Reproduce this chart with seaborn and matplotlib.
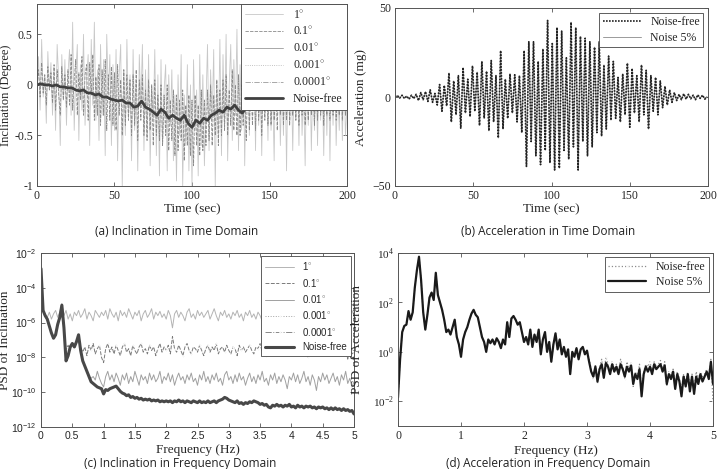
import numpy as np
import matplotlib
matplotlib.use("Agg")
import matplotlib.pyplot as plt
from matplotlib.ticker import FixedLocator, FuncFormatter, NullLocator
import seaborn as sns

# ---------------- data ----------------
# (a) inclination in time domain, 1 s sampling
incl_1deg = [
    0.02, 0.28, -0.25, 0.45, -0.12, 0.1, -0.38, 0.33, -0.05, 0.22,
    -0.3, 0.15, -0.45, 0.4, 0.05, -0.6, 0.3, -0.15, 0.25, -0.4,
    0.12, 0.35, -0.3, 0.62, -0.45, 0.1, 0.4, -0.55, 0.2, -0.25,
    0.5, -0.4, 0.05, 0.3, -0.6, 0.45, -0.2, 0.62, -0.35, 0.15,
    -0.55, 0.4, -0.3, 0.25, -0.7, 0.5, -0.1, 0.3, -0.6, 0.2,
    -0.45, 0.35, -0.75, 0.1, 0.4, -1.0, 0.15, -0.5, 0.45, -0.3,
    0.1, -0.75, 0.35, -0.45, 0.05, -0.85, 0.3, -0.2, 0.4, -0.65,
    0.15, -0.5, 0.3, -0.8, 0.0, -0.35, 0.35, -0.7, 0.1, -0.9,
    0.25, -0.6, -0.05, 0.2, -0.85, 0.1, -0.4, 0.15, -0.75, -0.1,
    -0.95, 0.1, -0.5, 0.3, -1.0, -0.1, -0.6, 0.2, -0.85, 0.0,
    -1.0, 0.25, -0.45, -0.05, -0.9, 0.3, -0.6, 0.1, -0.8, -0.2,
    0.4, -0.65, 0.15, -0.35, 0.35, -1.0, 0.05, -0.5, 0.45, -0.7,
    0.3, -0.4, 0.5, -0.75, 0.0, 0.4, -0.55, 0.25, -0.3, 0.55,
    -0.65, 0.2, -0.45, 0.45, -0.8, 0.1, 0.5, -0.5, 0.3, -0.25,
    0.2, -0.65, 0.5, -0.4, 0.05, -0.7, 0.4, -0.3, 0.2, -0.55,
    0.3, -0.45, 0.0, -0.75, 0.35, -0.3, 0.2, -0.6, 0.1, -0.5,
    0.25, -0.85, 0.3, -0.4, 0.1, -0.65, 0.2, -0.35, 0.15, -0.6,
    0.3, -0.5, -0.05, -0.8, 0.2, -0.4, 0.25, -0.65, 0.1, -0.45,
    0.2, -0.6, 0.3, -0.35, 0.05, -0.7, 0.25, -0.5, 0.15, -0.75,
    0.2, -0.4, 0.3, -0.6, 0.0, -0.45, 0.2, -0.55, 0.15, -0.5,
    -0.2,
]
incl_01deg = [
    0.0, 0.15, -0.12, 0.22, -0.08, 0.1, -0.2, 0.18, -0.05, 0.12,
    -0.18, 0.2, -0.25, 0.15, -0.1, -0.3, 0.18, -0.15, 0.1, -0.22,
    0.15, -0.2, 0.3, -0.25, 0.05, 0.25, -0.3, 0.12, -0.15, 0.28,
    -0.3, 0.1, 0.2, -0.35, 0.22, -0.1, 0.3, -0.35, 0.08, -0.3,
    0.2, -0.4, 0.15, -0.3, 0.25, -0.45, 0.1, -0.35, 0.18, -0.4,
    0.12, -0.45, 0.2, -0.3, 0.05, -0.5, 0.15, -0.4, 0.1, -0.35,
    0.05, -0.5, 0.1, -0.4, 0.15, -0.55, 0.05, -0.35, 0.1, -0.5,
    -0.05, -0.55, 0.05, -0.45, 0.0, -0.6, 0.05, -0.5, -0.1, -0.55,
    0.0, -0.6, -0.1, -0.5, 0.0, -0.65, -0.15, -0.55, -0.05, -0.7,
    -0.1, -0.65, -0.15, -0.55, -0.05, -0.75, -0.2, -0.6, -0.1, -0.7,
    -0.15, -0.8, -0.1, -0.6, -0.2, -0.7, -0.05, -0.65, -0.15, -0.6,
    -0.05, -0.55, 0.0, -0.6, -0.1, -0.5, 0.05, -0.6, -0.05, -0.5,
    0.05, -0.45, 0.1, -0.5, -0.05, -0.4, 0.15, -0.45, 0.0, -0.5,
    0.1, -0.5, 0.0, -0.4, 0.05, -0.55, 0.1, -0.45, 0.05, -0.4,
    0.1, -0.45, 0.15, -0.35, 0.05, -0.5, 0.1, -0.35, 0.15, -0.4,
    0.1, -0.4, 0.15, -0.35, 0.05, -0.45, 0.1, -0.3, 0.15, -0.4,
    0.1, -0.35, 0.15, -0.4, 0.05, -0.3, 0.12, -0.35, 0.1, -0.4,
    0.15, -0.3, 0.05, -0.4, 0.1, -0.35, 0.15, -0.3, 0.05, -0.4,
    0.1, -0.35, 0.15, -0.3, 0.05, -0.4, 0.1, -0.3, 0.12, -0.35,
    0.1, -0.3, 0.15, -0.35, 0.05, -0.3, 0.1, -0.35, 0.08, -0.3,
    -0.1,
]
# noise-free inclination, 2.5 s sampling
incl_free = [
    0.0, 0.01, 0.0, 0.0, -0.01, 0.0, -0.02, -0.02, -0.03, -0.03,
    -0.05, -0.06, -0.05, -0.08, -0.08, -0.10, -0.09, -0.12, -0.12, -0.14,
    -0.15, -0.16, -0.15, -0.18, -0.18, -0.22, -0.21, -0.16, -0.22, -0.24,
    -0.27, -0.30, -0.24, -0.27, -0.33, -0.30, -0.33, -0.35, -0.30, -0.38,
    -0.42, -0.35, -0.38, -0.33, -0.35, -0.30, -0.28, -0.25, -0.27, -0.22,
    -0.24, -0.20, -0.25, -0.28, -0.22, -0.20, -0.23, -0.18, -0.15, -0.16,
    -0.14, -0.15, -0.13, -0.14, -0.12, -0.13, -0.11, -0.12, -0.10, -0.11,
    -0.09, -0.10, -0.08, -0.09, -0.08, -0.07, -0.08, -0.06, -0.07, -0.05,
    -0.06,
]

# (b) acceleration (mg), 1.5 s sampling (successive peaks / troughs)
acc_free = [
    0.0, 0.8, -0.6, 1.0, -0.8, 0.5, -1.2, 1.0, -0.9, 1.5,
    -2.0, 2.5, -1.5, 3.0, -2.5, 4.0, -3.0, 2.0, -4.5, 7.0,
    -8.0, 6.5, -5.0, 13.5, -14.0, 9.0, -10.0, 12.0, -17.5, 16.5,
    -9.0, 10.0, -11.0, 17.5, -8.0, 14.0, -16.0, 20.0, -12.0, 14.5,
    -19.0, 20.5, -14.0, 12.0, -23.0, 26.0, -18.0, 10.0, -12.0, 13.0,
    -9.0, 12.5, -14.0, 12.0, -20.0, 26.0, -39.0, 31.0, -25.0, 31.0,
    -33.0, 20.0, -38.0, 27.0, -30.0, 43.0, -37.0, 30.0, -41.0, 39.0,
    -40.0, 37.0, -30.0, 22.0, -35.0, 42.0, -28.0, 39.0, -41.0, 34.0,
    -25.0, 33.0, -33.0, 31.0, -28.0, 28.0, -20.0, 31.0, -22.0, 18.0,
    -18.0, 23.0, -13.0, 20.0, -12.0, 11.0, -14.0, 13.0, -10.0, 19.0,
    -17.0, 16.0, -9.0, 12.0, -14.0, 18.0, -10.0, 15.0, -18.0, 12.0,
    -8.0, 11.0, -10.0, 9.0, -6.0, 6.0, -4.5, 4.0, -3.0, 2.5,
    -2.0, 1.5, -1.5, 1.8, -1.2, 1.5, -1.0, 1.0, -1.5, 1.2,
    -0.8, 1.0, -1.2, 0.0,
]
acc_noise = acc_free

# (c) PSD of inclination, log10 values on a 1/30 Hz grid
psd_incl_free = [
    -2.9, -5.3, -5.6, -5.8, -6.2, -6.6, -6.9, -6.7, -6.1, -5.7,
    -5.0, -6.3, -8.2, -7.9, -7.4, -7.2, -7.4, -7.1, -6.7, -7.6,
    -8.2, -8.5, -8.8, -9.1, -9.4, -9.5, -9.6, -9.7, -9.75, -9.8,
    -10.1, -9.85, -9.9, -9.8, -9.75, -9.7, -9.65, -9.8, -9.95, -10.05,
    -10.1, -10.2, -10.15, -10.3, -10.25, -10.35, -10.3, -10.4, -10.35, -10.45,
    -10.4, -10.45, -10.4, -10.5, -10.45, -10.5, -10.45, -10.55, -10.5, -10.55,
    -10.5, -10.55, -10.5, -10.6, -10.5, -10.55, -10.45, -10.55, -10.5, -10.6,
    -10.5, -10.55, -10.6, -10.5, -10.55, -10.6, -10.5, -10.6, -10.55, -10.6,
    -10.5, -10.6, -10.55, -10.5, -10.6, -10.5, -10.45, -10.4, -10.3, -10.35,
    -10.45, -10.5, -10.55, -10.6, -10.5, -10.65, -10.6, -10.7, -10.6, -10.65,
    -10.55, -10.6, -10.5, -10.55, -10.6, -10.7, -10.65, -10.75, -10.7, -10.85,
    -10.9, -10.75, -10.8, -10.7, -10.8, -10.75, -10.85, -10.75, -10.8, -10.7,
    -10.85, -10.8, -10.9, -10.75, -10.85, -10.8, -10.9, -10.8, -10.85, -10.8,
    -10.9, -10.85, -10.95, -10.85, -10.9, -10.85, -10.95, -10.9, -11.0, -10.9,
    -11.0, -10.9, -11.0, -10.95, -11.05, -10.95, -11.05, -11.0, -11.1, -11.05,
    -11.25,
]
psd_incl_1deg = [
    -2.9, -5.3, -5.5, -5.7, -5.4, -5.8, -5.5, -5.3, -5.7, -5.4,
    -4.9, -5.6, -5.3, -5.8, -5.5, -5.9, -5.4, -5.6, -5.3, -5.7,
    -5.5, -5.2, -5.8, -5.4, -5.6, -5.9, -5.3, -5.5, -5.7, -5.4,
    -5.6, -5.3, -5.8, -5.2, -5.5, -5.7, -5.4, -5.9, -5.3, -5.6,
    -5.4, -5.7, -5.2, -5.5, -5.8, -5.4, -5.6, -5.3, -5.9, -5.5,
    -5.3, -5.7, -5.5, -5.2, -5.8, -5.4, -5.6, -5.35, -5.7, -5.5,
    -5.8, -5.3, -5.6, -6.3, -5.5, -5.3, -5.7, -5.4, -5.6, -5.9,
    -5.4, -5.2, -5.7, -5.5, -5.8, -5.3, -5.6, -5.4, -5.7, -5.5,
    -5.3, -5.8, -5.5, -5.2, -5.6, -5.9, -5.4, -5.6, -5.3, -5.7,
    -5.5, -5.8, -5.4, -5.6, -5.3, -5.7, -5.5, -5.9, -5.4, -5.6,
    -5.3, -5.7, -5.5, -5.8, -5.4, -5.6, -5.9, -5.3, -5.6, -5.5,
    -5.7, -5.4, -5.8, -5.5, -5.3, -5.7, -5.6, -5.4, -5.9, -5.5,
    -5.3, -5.6, -5.8, -5.4, -5.7, -5.5, -5.3, -5.8, -5.6, -5.4,
    -5.7, -5.5, -5.9, -5.4, -5.6, -5.3, -5.7, -5.5, -5.8, -5.4,
    -5.6, -5.9, -5.5, -5.3, -5.7, -5.4, -5.6, -5.8, -5.5, -5.3,
    -5.6,
]
psd_incl_01deg = [
    -2.9, -5.3, -5.6, -5.8, -6.2, -6.6, -6.9, -6.7, -6.1, -5.7,
    -5.0, -6.3, -7.6, -7.3, -7.6, -7.2, -7.5, -7.1, -6.7, -7.4,
    -7.7, -7.4, -7.9, -7.3, -7.6, -7.2, -7.8, -7.5, -7.3, -8.0,
    -8.3, -7.5, -7.2, -7.7, -7.4, -7.8, -7.3, -7.6, -7.9, -7.4,
    -7.2, -7.7, -7.5, -7.9, -7.3, -7.6, -7.8, -7.4, -7.2, -7.7,
    -7.5, -7.8, -7.3, -7.6, -7.4, -7.9, -7.5, -7.2, -7.7, -7.4,
    -7.6, -7.3, -7.8, -6.8, -7.5, -7.7, -7.3, -7.6, -7.9, -7.4,
    -7.2, -7.6, -7.8, -7.4, -7.5, -7.7, -7.3, -7.6, -7.9, -7.5,
    -7.3, -7.7, -7.4, -7.6, -7.2, -7.8, -7.5, -7.4, -7.7, -7.3,
    -7.6, -7.8, -7.4, -7.5, -7.9, -7.3, -7.6, -7.4, -7.7, -7.5,
    -7.3, -7.6, -7.8, -7.4, -7.5, -7.2, -7.7, -7.5, -7.9, -7.4,
    -7.6, -7.3, -7.7, -7.5, -7.8, -7.4, -7.6, -7.9, -7.5, -7.3,
    -7.7, -7.4, -7.6, -7.8, -7.3, -7.5, -7.7, -7.4, -8.0, -7.6,
    -7.4, -7.7, -7.5, -7.3, -7.8, -7.6, -7.4, -7.7, -7.5, -7.9,
    -7.6, -7.4, -7.8, -7.5, -7.7, -7.3, -7.6, -8.1, -7.5, -7.8,
    -7.7,
]
psd_incl_001deg = [
    -2.9, -5.3, -5.6, -5.8, -6.2, -6.6, -6.9, -6.7, -6.1, -5.7,
    -5.0, -6.3, -8.2, -7.9, -7.4, -7.2, -7.4, -7.1, -6.7, -7.6,
    -8.2, -8.5, -8.8, -9.1, -9.2, -9.1, -9.3, -8.8, -9.2, -9.5,
    -9.7, -9.1, -8.8, -9.3, -9.0, -9.4, -8.9, -9.2, -9.6, -9.0,
    -9.3, -8.9, -9.5, -9.1, -9.4, -8.8, -9.2, -9.6, -9.0, -9.3,
    -9.1, -9.5, -8.9, -9.3, -9.0, -9.4, -9.2, -8.8, -9.5, -9.1,
    -9.3, -8.9, -9.4, -9.0, -9.6, -9.2, -8.9, -9.3, -9.1, -9.5,
    -9.0, -9.3, -8.9, -9.4, -9.2, -9.6, -9.0, -9.3, -8.8, -9.4,
    -9.1, -9.5, -9.0, -9.3, -8.9, -9.4, -9.2, -9.6, -9.0, -8.8,
    -9.3, -9.1, -9.5, -9.0, -9.4, -8.9, -9.3, -9.1, -9.6, -9.2,
    -8.9, -9.4, -9.1, -9.5, -9.0, -9.3, -8.8, -9.4, -9.2, -9.6,
    -9.0, -9.3, -8.9, -9.5, -9.1, -9.4, -9.0, -9.3, -9.8, -9.1,
    -9.3, -8.9, -9.4, -9.0, -9.5, -9.2, -8.8, -9.4, -9.1, -9.6,
    -9.0, -9.3, -9.9, -9.1, -9.4, -8.9, -9.3, -9.0, -9.5, -9.2,
    -8.9, -9.4, -9.1, -9.6, -9.0, -9.3, -8.8, -9.5, -9.2, -9.7,
    -9.4,
]

# (d) PSD of acceleration, log10 values on a 1/30 Hz grid
psd_acc_noise = [
    -1.84, -0.3, 0.8, 1.05, 1.1, 1.65, 1.3, 1.6, 2.6, 3.3,
    3.85, 2.9, 1.6, 0.9, 1.5, 2.2, 2.4, 2.1, 3.2, 2.3,
    2.0, 1.7, 1.3, 0.8, 0.9, 0.7, 1.0, 1.3, 0.6, 0.3,
    -0.2, 0.5, 0.8, 1.0, 1.3, 1.55, 1.7, 1.5, 1.4, 1.0,
    0.6, 0.4, 0.0, 0.5, 0.35, 0.5, 0.3, 0.55, 0.4, 0.15,
    0.5, 0.3, 1.2, 0.6, 1.35, 1.45, 1.3, 1.1, 1.2, 0.8,
    0.4, 0.6, 0.3, 0.9, 0.2, 0.7, 0.4, 0.9, -0.1, 0.5,
    0.8, 0.0, 0.4, -0.4, 0.3, 0.75, 0.1, 0.5, -0.1, 0.2,
    -0.2, 0.1, -0.9, 0.0, -0.2, 0.15, -0.3, 0.1, 0.2, -0.1,
    0.05, -0.4, -0.8, -1.0, -0.6, -1.2, -0.7, -0.5, -1.05, -0.45,
    -0.6, -0.9, -0.5, -0.8, -0.6, -0.9, -0.5, -0.7, -1.0, -0.6,
    -0.8, -0.55, -1.3, -0.9, -1.1, -0.7, -1.8, -0.9, -0.6, -0.8,
    -0.6, -0.9, -0.5, -0.7, -0.6, -0.5, -0.8, -0.55, -1.3, -0.9,
    -1.1, -0.8, -1.5, -0.9, -1.2, -1.8, -1.0, -1.4, -0.9, -1.6,
    -1.0, -1.7, -1.0, -1.3, -0.9, -1.2, -1.0, -0.8, -1.1, -0.4,
    -1.3,
]
psd_acc_free = psd_acc_noise[:91] + [
    -0.3, -0.7, -1.1, -0.5, -1.3, -0.6, -0.3, -1.0, -0.2, -0.5,
    -0.8, -0.4, -0.7, -0.5, -0.8, -0.3, -0.6, -1.1, -0.4, -0.7,
    -0.45, -1.4, -0.8, -1.0, -0.5, -1.6, -0.8, -0.5, -0.6, -0.4,
    -0.8, -0.4, -0.6, -0.5, -0.35, -0.7, -0.4, -1.4, -0.8, -1.0,
    -0.7, -1.3, -0.8, -1.1, -1.5, -0.9, -1.2, -0.8, -1.4, -0.9,
    -1.5, -0.8, -1.1, -0.8, -1.0, -0.9, -0.7, -1.0, -0.3, -2.0,
]

assert len(incl_1deg) == 201 and len(incl_01deg) == 201 and len(incl_free) == 81
assert len(acc_free) == 134
for s in (psd_incl_free, psd_incl_1deg, psd_incl_01deg, psd_incl_001deg,
          psd_acc_noise, psd_acc_free):
    assert len(s) == 151, len(s)

t_1s = np.arange(201) * 1.0
t_free = np.arange(81) * 2.5
t_acc = np.arange(134) * 1.5
freq = np.arange(151) / 30.0

# ---------------- style ----------------
sns.set_style("ticks")
plt.rcParams["font.family"] = ["Liberation Serif", "DejaVu Sans"]
plt.rcParams["mathtext.fontset"] = "custom"
plt.rcParams["mathtext.rm"] = "Liberation Serif"
plt.rcParams["mathtext.sf"] = "Liberation Sans"
plt.rcParams["axes.linewidth"] = 0.7
plt.rcParams["axes.edgecolor"] = "#555555"

SERIF = ["Liberation Serif", "DejaVu Sans"]
SANS = ["Liberation Sans", "DejaVu Sans"]


def style_axes(ax, tickfont=SERIF):
    ax.tick_params(direction="in", top=True, right=True, length=3,
                   width=0.6, labelsize=8.5, color="#555555", pad=3)
    for lab in ax.get_xticklabels() + ax.get_yticklabels():
        lab.set_family(tickfont)


def line(ax, x, y, **kw):
    sns.lineplot(x=x, y=y, ax=ax, estimator=None, sort=False, **kw)


def legend(ax, font, size=8, **kw):
    leg = ax.legend(prop={"family": font, "size": size}, fancybox=False,
                    framealpha=1, edgecolor="#444444", **kw)
    leg.get_frame().set_linewidth(0.6)
    return leg


W, H = 721, 469
fig = plt.figure(figsize=(W / 100, H / 100), dpi=100)


def box(l, t, r, b):
    return [l / W, 1 - b / H, (r - l) / W, (b - t) / H]


deg = r"$^{\circ}$"

# ---------------- (a) ----------------
ax = fig.add_axes(box(37, 4, 347, 186))
line(ax, t_1s, incl_1deg, color="#c8c8c8", lw=0.6, label="1" + deg)
line(ax, t_1s, incl_01deg, color="#8a8a8a", lw=0.6, linestyle=(0, (4, 1.5)),
     label="0.1" + deg)
line(ax, t_free, incl_free, color="#9a9a9a", lw=0.6, label="0.01" + deg)
line(ax, t_free, incl_free, color="#b0b0b0", lw=0.6, linestyle=":",
     label="0.001" + deg)
line(ax, t_free, incl_free, color="#9a9a9a", lw=0.6, linestyle="-.",
     label="0.0001" + deg)
line(ax, t_free, incl_free, color="#404040", lw=2.0, label="Noise-free")
ax.set_xlim(0, 200)
ax.set_ylim(-1, 0.8)
ax.xaxis.set_major_locator(FixedLocator([0, 50, 100, 150, 200]))
ax.yaxis.set_major_locator(FixedLocator([-1, -0.5, 0, 0.5]))
ax.yaxis.set_major_formatter(FuncFormatter(lambda v, p: f"{v:g}"))
ax.set_xlabel("Time (sec)", fontsize=9.5, labelpad=1)
ax.set_ylabel("Inclination (Degree)", fontsize=9)
ax.yaxis.set_label_coords(-0.082, 0.5)
style_axes(ax)
legend(ax, SERIF, size=8.5, loc="upper right", borderaxespad=0,
       handlelength=3.2, labelspacing=0.35, borderpad=0.4)

# ---------------- (b) ----------------
ax = fig.add_axes(box(395, 8, 708, 186))
line(ax, t_acc, acc_noise, color="#9a9a9a", lw=0.7, label="Noise 5%")
line(ax, t_acc, acc_free, color="#222222", lw=1.2, linestyle=(0, (1, 0.8)),
     label="Noise-free")
ax.set_xlim(0, 200)
ax.set_ylim(-50, 50)
ax.xaxis.set_major_locator(FixedLocator([0, 50, 100, 150, 200]))
ax.yaxis.set_major_locator(FixedLocator([-50, 0, 50]))
ax.set_xlabel("Time (sec)", fontsize=9.5, labelpad=1)
ax.set_ylabel("Acceleration (mg)", fontsize=9.5)
ax.yaxis.set_label_coords(-0.089, 0.5)
style_axes(ax)
h, lab = ax.get_legend_handles_labels()
leg = ax.legend(h[::-1], lab[::-1], prop={"family": SERIF, "size": 8.5},
                fancybox=False, framealpha=1, edgecolor="#444444",
                loc="upper right", handlelength=3.2, labelspacing=0.3,
                borderpad=0.3, borderaxespad=0.4)
leg.get_frame().set_linewidth(0.6)

# ---------------- (c) ----------------
ax = fig.add_axes(box(41, 253, 354, 427))
line(ax, freq, 10 ** np.array(psd_incl_1deg), color="#b4b4b4", lw=0.7,
     label="1" + deg)
line(ax, freq, 10 ** np.array(psd_incl_01deg), color="#7a7a7a", lw=0.7,
     linestyle=(0, (4, 1.5)), marker=".", markersize=2, markevery=4,
     label="0.1" + deg)
line(ax, freq, 10 ** np.array(psd_incl_001deg), color="#a0a0a0", lw=0.7,
     label="0.01" + deg)
line(ax, freq, 10 ** np.array(psd_incl_free), color="#a0a0a0", lw=0.7,
     linestyle=":", marker=".", markersize=2, markevery=4, label="0.001" + deg)
line(ax, freq, 10 ** np.array(psd_incl_free), color="#888888", lw=0.7,
     linestyle="-.", marker=".", markersize=2, markevery=4,
     label="0.0001" + deg)
line(ax, freq, 10 ** np.array(psd_incl_free), color="#484848", lw=2.2,
     label="Noise-free")
ax.set_yscale("log")
ax.set_xlim(0, 5)
ax.set_ylim(1e-12, 1e-2)
ax.xaxis.set_major_locator(FixedLocator(np.arange(0, 5.01, 0.5)))
ax.xaxis.set_major_formatter(FuncFormatter(lambda v, p: f"{v:g}"))
ax.yaxis.set_major_locator(FixedLocator([1e-12, 1e-10, 1e-8, 1e-6, 1e-4, 1e-2]))
ax.yaxis.set_major_formatter(
    FuncFormatter(lambda v, p: r"$\mathsf{10^{%d}}$" % round(np.log10(v))))
ax.yaxis.set_minor_locator(NullLocator())
ax.set_xlabel("Frequency (Hz)", fontsize=9.5, labelpad=2)
ax.set_ylabel("PSD of Inclination", fontsize=9.5)
ax.yaxis.set_label_coords(-0.095, 0.5)
style_axes(ax, SANS)
ax.tick_params(labelsize=7.5)
legend(ax, SANS, size=7, loc="upper right", borderaxespad=0.35,
       handlelength=3.0, labelspacing=0.45, borderpad=0.4)

# ---------------- (d) ----------------
ax = fig.add_axes(box(398, 253, 713, 426))
line(ax, freq, 10 ** np.array(psd_acc_free), color="#8c8c8c", lw=0.9,
     linestyle=":", marker=".", markersize=2, markevery=3, label="Noise-free")
line(ax, freq, 10 ** np.array(psd_acc_noise), color="#1a1a1a", lw=1.6,
     label="Noise 5%")
ax.set_yscale("log")
ax.set_xlim(0, 5)
ax.set_ylim(1e-3, 1e4)
ax.xaxis.set_major_locator(FixedLocator([0, 1, 2, 3, 4, 5]))
ax.yaxis.set_major_locator(FixedLocator([1e-2, 1e0, 1e2, 1e4]))
ax.yaxis.set_major_formatter(
    FuncFormatter(lambda v, p: r"$10^{%d}$" % round(np.log10(v))))
ax.yaxis.set_minor_locator(NullLocator())
ax.set_xlabel("Frequency (Hz)", fontsize=9.5, labelpad=2)
ax.set_ylabel("PSD of Acceleration", fontsize=9.5)
ax.yaxis.set_label_coords(-0.112, 0.5)
style_axes(ax)
ax.tick_params(axis="y", labelsize=8)
legend(ax, SERIF, size=8.5, loc="upper right", borderaxespad=0.35,
       handlelength=3.2, labelspacing=0.3, borderpad=0.3)

# ---------------- captions ----------------
cap = dict(family=["Open Sans", "DejaVu Sans"], fontsize=8.5, ha="center",
           va="center", color="#222222")
fig.text(177 / W, 1 - 231 / H, "(a) Inclination in Time Domain", **cap)
fig.text(548 / W, 1 - 231 / H, "(b) Acceleration in Time Domain", **cap)
fig.text(180 / W, 1 - 463 / H, "(c) Inclination in Frequency Domain", **cap)
fig.text(548 / W, 1 - 463 / H, "(d) Acceleration in Frequency Domain", **cap)

fig.savefig("out.png", dpi=100)
